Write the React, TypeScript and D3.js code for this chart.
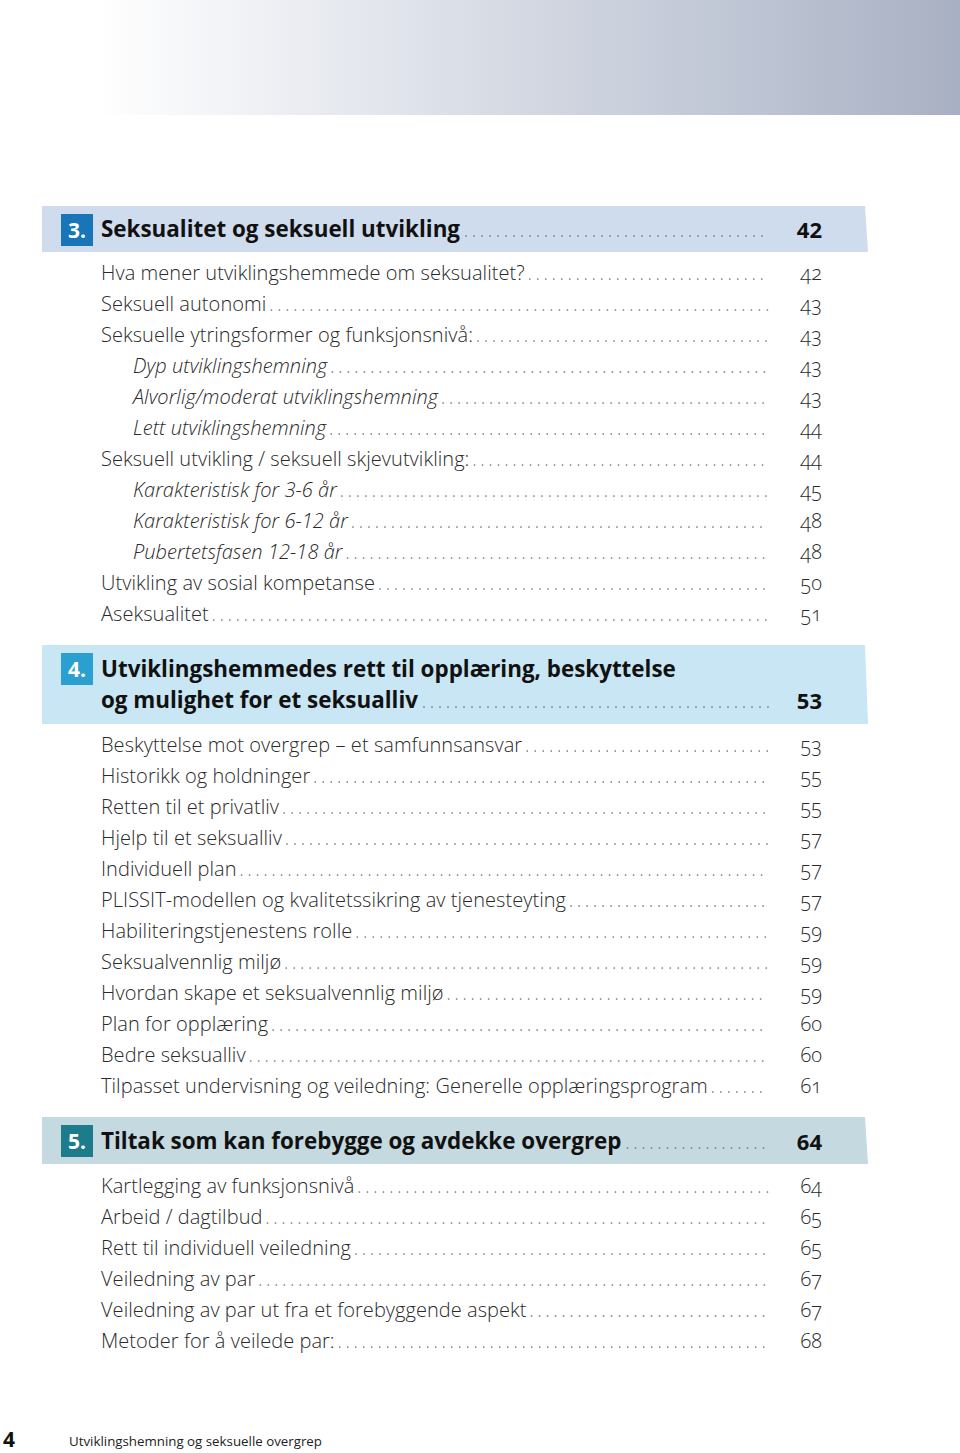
import React, { useEffect, useRef } from "react";
import * as d3 from "d3";

// ---------- data ----------
const sectionNumbers = ["3.", "4.", "5."];
const sectionTitles = [
  ["Seksualitet og seksuell utvikling"],
  ["Utviklingshemmedes rett til opplæring, beskyttelse", "og mulighet for et seksualliv"],
  ["Tiltak som kan forebygge og avdekke overgrep"],
];
const sectionPages = [42, 53, 64];

const sec3Entries = [
  "Hva mener utviklingshemmede om seksualitet?",
  "Seksuell autonomi",
  "Seksuelle ytringsformer og funksjonsnivå:",
  "Dyp utviklingshemning",
  "Alvorlig/moderat utviklingshemning",
  "Lett utviklingshemning",
  "Seksuell utvikling / seksuell skjevutvikling:",
  "Karakteristisk for 3-6 år",
  "Karakteristisk for 6-12 år",
  "Pubertetsfasen 12-18 år",
  "Utvikling av sosial kompetanse",
  "Aseksualitet",
];
const sec3Pages = [42, 43, 43, 43, 43, 44, 44, 45, 48, 48, 50, 51];
const sec3Sub = [false, false, false, true, true, true, false, true, true, true, false, false];

const sec4Entries = [
  "Beskyttelse mot overgrep  –  et samfunnsansvar",
  "Historikk og holdninger",
  "Retten til et privatliv",
  "Hjelp til et seksualliv",
  "Individuell plan",
  "PLISSIT-modellen og kvalitetssikring av tjenesteyting",
  "Habiliteringstjenestens rolle",
  "Seksualvennlig miljø",
  "Hvordan skape et seksualvennlig miljø",
  "Plan for opplæring",
  "Bedre seksualliv",
  "Tilpasset undervisning og veiledning: Generelle opplæringsprogram",
];
const sec4Pages = [53, 55, 55, 57, 57, 57, 59, 59, 59, 60, 60, 61];

const sec5Entries = [
  "Kartlegging av funksjonsnivå",
  "Arbeid / dagtilbud",
  "Rett til individuell veiledning",
  "Veiledning av par",
  "Veiledning av par ut fra et forebyggende aspekt",
  "Metoder for å veilede par:",
];
const sec5Pages = [64, 65, 65, 67, 67, 68];

const footerPage = "4";
const footerTitle = "Utviklingshemning og seksuelle overgrep";

// ---------- styles ----------
const bandColors = ["#cfdcee", "#c8e6f3", "#c4d9e0"];
const boxColors = ["#1875b8", "#2aa0d0", "#1d7c8c"];
const FONT = "'Open Sans', 'DejaVu Sans', sans-serif";

export default function App() {
  const ref = useRef<SVGSVGElement>(null);

  useEffect(() => {
    const svg = d3.select(ref.current);
    svg.selectAll("*").remove();
    const W = 960;

    // banner gradient
    const defs = svg.append("defs");
    const g = defs.append("linearGradient").attr("id", "banner").attr("x1", "0").attr("x2", "1").attr("y1", "0").attr("y2", "0");
    [[0, "#ffffff"], [0.1, "#ffffff"], [0.3, "#eceef3"], [0.55, "#d3d8e2"], [0.8, "#bcc3d2"], [1, "#a8b0c3"]].forEach(([o, c]) =>
      g.append("stop").attr("offset", o as number).attr("stop-color", c as string)
    );
    svg.append("rect").attr("x", 0).attr("y", 0).attr("width", W).attr("height", 115).attr("fill", "url(#banner)");

    const xText = 101, xSub = 133, xDotsEnd = 768, xPage = 822;

    const dotLine = (x1: number, y: number, color: string) => {
      if (xDotsEnd - x1 < 4) return;
      svg.append("line")
        .attr("x1", x1).attr("x2", xDotsEnd).attr("y1", y).attr("y2", y)
        .attr("stroke", color).attr("stroke-width", 1.7)
        .attr("stroke-linecap", "round")
        .attr("stroke-dasharray", "0.1 7.9");
    };

    // section band geometry
    const bands = [
      { top: 206, bottom: 252, lines: [237], box: [214, 246] },
      { top: 645, bottom: 724, lines: [677, 708], box: [653, 685] },
      { top: 1117, bottom: 1164, lines: [1149], box: [1125, 1157] },
    ];

    bands.forEach((b, si) => {
      const pts: [number, number][] = [[42, b.top], [865, b.top], [868, b.bottom], [42, b.bottom]];
      svg.append("path").attr("d", d3.line()(pts) + "Z").attr("fill", bandColors[si]);
      svg.append("rect").attr("x", 61).attr("y", b.box[0]).attr("width", 32).attr("height", b.box[1] - b.box[0]).attr("fill", boxColors[si]);
      svg.append("text").attr("x", 77).attr("y", (b.box[0] + b.box[1]) / 2 + 8)
        .attr("text-anchor", "middle").attr("fill", "#fff")
        .attr("font-family", FONT).attr("font-weight", 700).attr("font-size", 21)
        .text(sectionNumbers[si]);
      let lastEnd = 0;
      sectionTitles[si].forEach((t, li) => {
        const tx = svg.append("text").attr("x", xText).attr("y", b.lines[li])
          .attr("fill", "#111").attr("font-family", FONT).attr("font-weight", 700)
          .attr("font-size", 22.4).text(t);
        lastEnd = xText + (tx.node() as SVGTextElement).getComputedTextLength();
      });
      const lastY = b.lines[b.lines.length - 1];
      dotLine(lastEnd + 6, lastY - 1, "#6a7480");
      svg.append("text").attr("x", xPage).attr("y", lastY + 1).attr("text-anchor", "end")
        .attr("fill", "#111").attr("font-family", FONT).attr("font-weight", 700).attr("font-size", 22)
        .text(sectionPages[si]);
    });

    const drawEntries = (entries: string[], pages: number[], sub: boolean[], firstBaseline: number) => {
      const y = d3.scaleLinear().domain([0, 1]).range([firstBaseline, firstBaseline + 31]);
      entries.forEach((e, i) => {
        const isSub = sub[i];
        const x = isSub ? xSub : xText;
        const t = svg.append("text").attr("x", x).attr("y", y(i))
          .attr("fill", "#2a2a2a").attr("font-family", FONT).attr("font-weight", 300)
          .attr("font-size", 20).attr("letter-spacing", 0.05).attr("font-style", isSub ? "italic" : "normal").text(e);
        const end = x + (t.node() as SVGTextElement).getComputedTextLength();
        dotLine(end + 5, y(i) - 1, "#777");
        svg.append("text").attr("x", xPage).attr("y", y(i)).attr("text-anchor", "end")
          .attr("fill", "#2a2a2a").attr("font-family", FONT).attr("font-weight", 300)
          .attr("font-size", 20).style("font-variant-numeric", "oldstyle-nums").text(pages[i]);
      });
    };

    drawEntries(sec3Entries, sec3Pages, sec3Sub, 280);
    drawEntries(sec4Entries, sec4Pages, sec4Entries.map(() => false), 752);
    drawEntries(sec5Entries, sec5Pages, sec5Entries.map(() => false), 1193);

    // footer
    svg.append("text").attr("x", 3).attr("y", 1447).attr("fill", "#111")
      .attr("font-family", FONT).attr("font-weight", 700).attr("font-size", 21).text(footerPage);
    svg.append("text").attr("x", 69).attr("y", 1446).attr("fill", "#222")
      .attr("font-family", FONT).attr("font-size", 13.3).text(footerTitle);
  }, []);

  return (
    <svg ref={ref} width={960} height={1453} style={{ position: "absolute", left: 0, top: 0, display: "block", background: "#fff" }} />
  );
}
